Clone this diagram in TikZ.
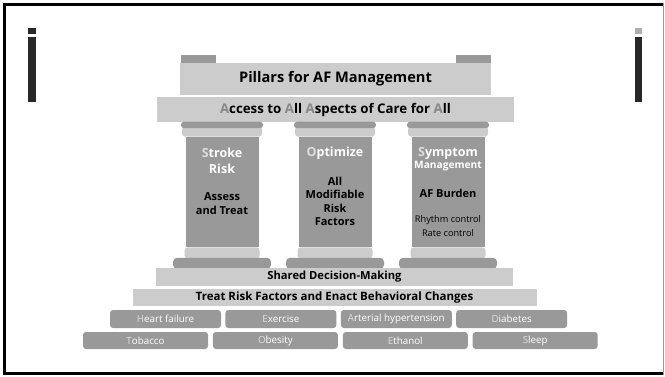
\documentclass[tikz,border=0pt]{standalone}
\usepackage{fontspec}
\setmainfont{Open Sans}
\usepackage{xcolor}
\usetikzlibrary{positioning}
\definecolor{band}{RGB}{204,204,204}
\definecolor{stone}{RGB}{153,153,153}
\definecolor{ink}{RGB}{40,40,40}
\definecolor{accent}{RGB}{136,136,136}
\definecolor{pale}{RGB}{222,222,222}

\begin{document}
\begin{tikzpicture}[
    x=1pt, y=-1pt,
    band/.style={rectangle, fill=band, inner sep=0pt, font=\bfseries},
    tab/.style={rectangle, fill=stone, minimum width=35pt, minimum height=8pt, inner sep=0pt},
    shaft/.style={rectangle, fill=stone, minimum width=73pt, minimum height=110pt, inner sep=0pt},
    neck/.style={rectangle, fill=band, rounded corners=3pt, minimum width=80pt, minimum height=10pt, inner sep=0pt},
    abacus/.style={rectangle, fill=stone, rounded corners=3pt, minimum width=82pt, minimum height=6.5pt, inner sep=0pt},
    plinth/.style={rectangle, fill=band, rounded corners=3pt, minimum width=75pt, minimum height=11pt, inner sep=0pt},
    foot/.style={rectangle, fill=stone, rounded corners=4pt, minimum width=98pt, minimum height=11pt, inner sep=0pt},
    head/.style={text=white, align=center, inner sep=0pt, font=\bfseries\fontsize{12.5}{16}\selectfont},
    body/.style={text=black, align=center, inner sep=0pt, font=\bfseries\fontsize{11}{13.5}\selectfont},
    factor/.style={rectangle, fill=stone, rounded corners=3pt, text=white, inner sep=0pt, font=\fontsize{9.8}{11}\selectfont}
]
\useasboundingbox (0,0) rectangle (665,376);

% frame and side marks
\draw[line width=3pt] (663,4.5) -- (4.5,4.5) -- (4.5,373.5) -- (663,373.5);
\draw[stone, line width=1pt] (663,3) -- (663,375);
\fill[ink] (28,28) rectangle (36,34);
\fill[ink] (28,37) rectangle (36,101.5);
\fill[stone!80] (635,28) rectangle (642,34);
\fill[ink] (635,37) rectangle (642,101.5);

% roof
\node[tab] (tabL) at (198,59) {};
\node[tab] (tabR) at (473,59) {};
\node[band, minimum width=311pt, minimum height=32pt, font=\bfseries\fontsize{14.6}{16}\selectfont] (title) at (335.5,79) {Pillars for AF Management};
\node[band, minimum width=357pt, minimum height=25pt, font=\bfseries\fontsize{13.3}{15}\selectfont, below=2pt of title] (access)
    {\textcolor{accent}{A}ccess to \textcolor{accent}{A}ll \textcolor{accent}{A}spects of Care for \textcolor{accent}{A}ll};

% pillars
\node[shaft] (shaft1) at (222,192) {};
\node[shaft] (shaft2) at (335,192) {};
\node[shaft] (shaft3) at (448,192) {};

\node[neck, above=0pt of shaft1] (neck1) {};
\node[neck, above=0pt of shaft2] (neck2) {};
\node[neck, above=0pt of shaft3] (neck3) {};
\node[abacus, above=-2pt of neck1] (abacus1) {};
\node[abacus, above=-2pt of neck2] (abacus2) {};
\node[abacus, above=-2pt of neck3] (abacus3) {};

\node[plinth, below=0pt of shaft1] (plinth1) {};
\node[plinth, below=0pt of shaft2] (plinth2) {};
\node[plinth, below=0pt of shaft3] (plinth3) {};
\node[foot, below=-1pt of plinth1] (foot1) {};
\node[foot, below=-1pt of plinth2] (foot2) {};
\node[foot, below=-1pt of plinth3] (foot3) {};

\node[head] (stroke) at (222,161) {\textcolor{pale}{S}troke\\Risk};
\node[body] (assess) at (222,203.5) {Assess\\and Treat};
\node[head] (optimize) at (335,153) {\textcolor{pale}{O}ptimize};
\node[body] (modify) at (335,201.5) {All\\Modifiable\\Risk\\Factors};
\node[head] (symptom) at (448,153) {\textcolor{pale}{S}ymptom};
\node[head, font=\bfseries\fontsize{10.2}{11}\selectfont, below=1.5pt of symptom] (mgmt) {Management};
\node[body] (burden) at (448,193) {AF Burden};
\node[body, font=\fontsize{9.2}{14}\selectfont] (control) at (448,226) {Rhythm control\\Rate control};

% foundation
\node[band, minimum width=357pt, minimum height=18pt, font=\bfseries\fontsize{11.2}{12}\selectfont] (shared) at (334.5,277) {Shared Decision-Making};
\node[band, minimum width=404pt, minimum height=17pt, font=\bfseries\fontsize{11.5}{13}\selectfont, below=3pt of shared] (treat)
    {Treat Risk Factors and Enact Behavioral Changes};

% risk factors
\node[factor, minimum width=111pt, minimum height=18pt] (heart) at (165.5,319) {\textcolor{pale}{H}eart failure};
\node[factor, minimum width=111pt, minimum height=18pt, right=4pt of heart] (exercise) {\textcolor{pale}{E}xercise};
\node[factor, minimum width=111pt, minimum height=18pt, right=4pt of exercise] (hypertension) {\textcolor{pale}{A}rterial hypertension};
\node[factor, minimum width=111pt, minimum height=18pt, right=4pt of hypertension] (diabetes) {\textcolor{pale}{D}iabetes};

\node[factor, minimum width=125pt, minimum height=17pt] (tobacco) at (145.5,340.5) {\textcolor{pale}{T}obacco};
\node[factor, minimum width=125pt, minimum height=17pt, right=4.5pt of tobacco] (obesity) {\textcolor{pale}{O}besity};
\node[factor, minimum width=125pt, minimum height=17pt, right=4.5pt of obesity] (ethanol) {\textcolor{pale}{E}thanol};
\node[factor, minimum width=125pt, minimum height=17pt, right=4.5pt of ethanol] (sleep) {\textcolor{pale}{S}leep};

\end{tikzpicture}
\end{document}
